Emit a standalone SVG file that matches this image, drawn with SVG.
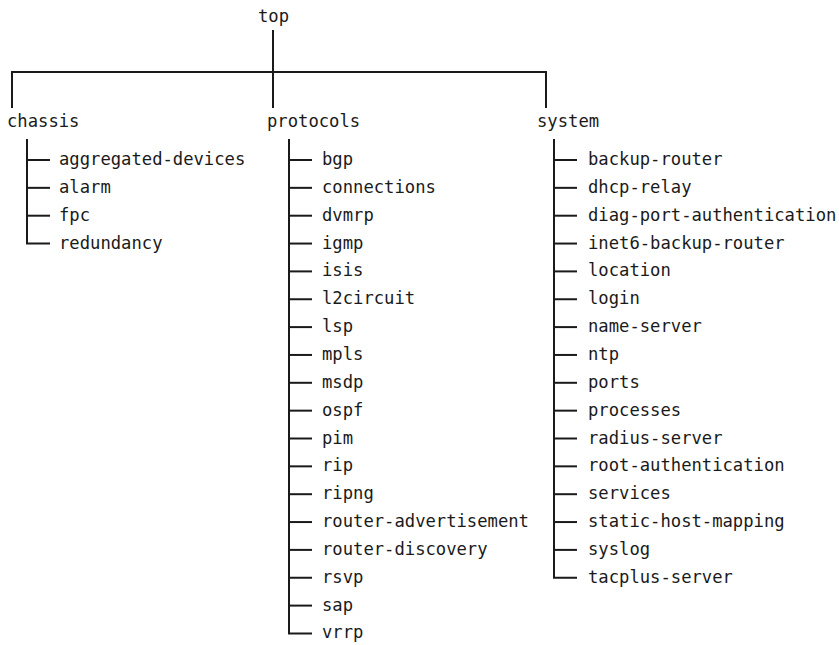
<svg xmlns="http://www.w3.org/2000/svg" width="839" height="645" viewBox="0 0 839 645">
<style>
text{font-family:"DejaVu Sans Mono","Liberation Mono",monospace;font-size:17.2px;fill:#1a1a1a}
.c path,.c line{stroke:#1a1a1a;stroke-width:2;fill:none}
</style>
<rect width="839" height="645" fill="#fff"/>
<g class="c" id="connectors">
<line x1="273" y1="30" x2="273" y2="108"/>
<path d="M12 108 V72 H546 V108"/>
<path d="M27 139 V243.6 H50"/>
<line x1="27" y1="160" x2="50" y2="160"/>
<line x1="27" y1="187.85" x2="50" y2="187.85"/>
<line x1="27" y1="215.7" x2="50" y2="215.7"/>
<path d="M289 139 V633.5 H312"/>
<line x1="289" y1="160" x2="312" y2="160"/>
<line x1="289" y1="187.85" x2="312" y2="187.85"/>
<line x1="289" y1="215.7" x2="312" y2="215.7"/>
<line x1="289" y1="243.55" x2="312" y2="243.55"/>
<line x1="289" y1="271.4" x2="312" y2="271.4"/>
<line x1="289" y1="299.25" x2="312" y2="299.25"/>
<line x1="289" y1="327.1" x2="312" y2="327.1"/>
<line x1="289" y1="354.95" x2="312" y2="354.95"/>
<line x1="289" y1="382.8" x2="312" y2="382.8"/>
<line x1="289" y1="410.65" x2="312" y2="410.65"/>
<line x1="289" y1="438.5" x2="312" y2="438.5"/>
<line x1="289" y1="466.35" x2="312" y2="466.35"/>
<line x1="289" y1="494.2" x2="312" y2="494.2"/>
<line x1="289" y1="522.05" x2="312" y2="522.05"/>
<line x1="289" y1="549.9" x2="312" y2="549.9"/>
<line x1="289" y1="577.75" x2="312" y2="577.75"/>
<line x1="289" y1="605.6" x2="312" y2="605.6"/>
<path d="M554 139 V577.75 H577"/>
<line x1="554" y1="160" x2="577" y2="160"/>
<line x1="554" y1="187.85" x2="577" y2="187.85"/>
<line x1="554" y1="215.7" x2="577" y2="215.7"/>
<line x1="554" y1="243.55" x2="577" y2="243.55"/>
<line x1="554" y1="271.4" x2="577" y2="271.4"/>
<line x1="554" y1="299.25" x2="577" y2="299.25"/>
<line x1="554" y1="327.1" x2="577" y2="327.1"/>
<line x1="554" y1="354.95" x2="577" y2="354.95"/>
<line x1="554" y1="382.8" x2="577" y2="382.8"/>
<line x1="554" y1="410.65" x2="577" y2="410.65"/>
<line x1="554" y1="438.5" x2="577" y2="438.5"/>
<line x1="554" y1="466.35" x2="577" y2="466.35"/>
<line x1="554" y1="494.2" x2="577" y2="494.2"/>
<line x1="554" y1="522.05" x2="577" y2="522.05"/>
<line x1="554" y1="549.9" x2="577" y2="549.9"/>
</g>
<g id="top"><text x="258" y="22">top</text></g>
<g id="chassis"><text x="7" y="127">chassis</text></g>
<g id="protocols"><text x="267" y="127">protocols</text></g>
<g id="system"><text x="537" y="127">system</text></g>
<g id="chassis-children">
<text x="59" y="165">aggregated-devices</text>
<text x="59" y="192.85">alarm</text>
<text x="59" y="220.7">fpc</text>
<text x="59" y="248.55">redundancy</text>
</g>
<g id="protocols-children">
<text x="322" y="165">bgp</text>
<text x="322" y="192.85">connections</text>
<text x="322" y="220.7">dvmrp</text>
<text x="322" y="248.55">igmp</text>
<text x="322" y="276.4">isis</text>
<text x="322" y="304.25">l2circuit</text>
<text x="322" y="332.1">lsp</text>
<text x="322" y="359.95">mpls</text>
<text x="322" y="387.8">msdp</text>
<text x="322" y="415.65">ospf</text>
<text x="322" y="443.5">pim</text>
<text x="322" y="471.35">rip</text>
<text x="322" y="499.2">ripng</text>
<text x="322" y="527.05">router-advertisement</text>
<text x="322" y="554.9">router-discovery</text>
<text x="322" y="582.75">rsvp</text>
<text x="322" y="610.6">sap</text>
<text x="322" y="638.45">vrrp</text>
</g>
<g id="system-children">
<text x="588" y="165">backup-router</text>
<text x="588" y="192.85">dhcp-relay</text>
<text x="588" y="220.7">diag-port-authentication</text>
<text x="588" y="248.55">inet6-backup-router</text>
<text x="588" y="276.4">location</text>
<text x="588" y="304.25">login</text>
<text x="588" y="332.1">name-server</text>
<text x="588" y="359.95">ntp</text>
<text x="588" y="387.8">ports</text>
<text x="588" y="415.65">processes</text>
<text x="588" y="443.5">radius-server</text>
<text x="588" y="471.35">root-authentication</text>
<text x="588" y="499.2">services</text>
<text x="588" y="527.05">static-host-mapping</text>
<text x="588" y="554.9">syslog</text>
<text x="588" y="582.75">tacplus-server</text>
</g>
</svg>
